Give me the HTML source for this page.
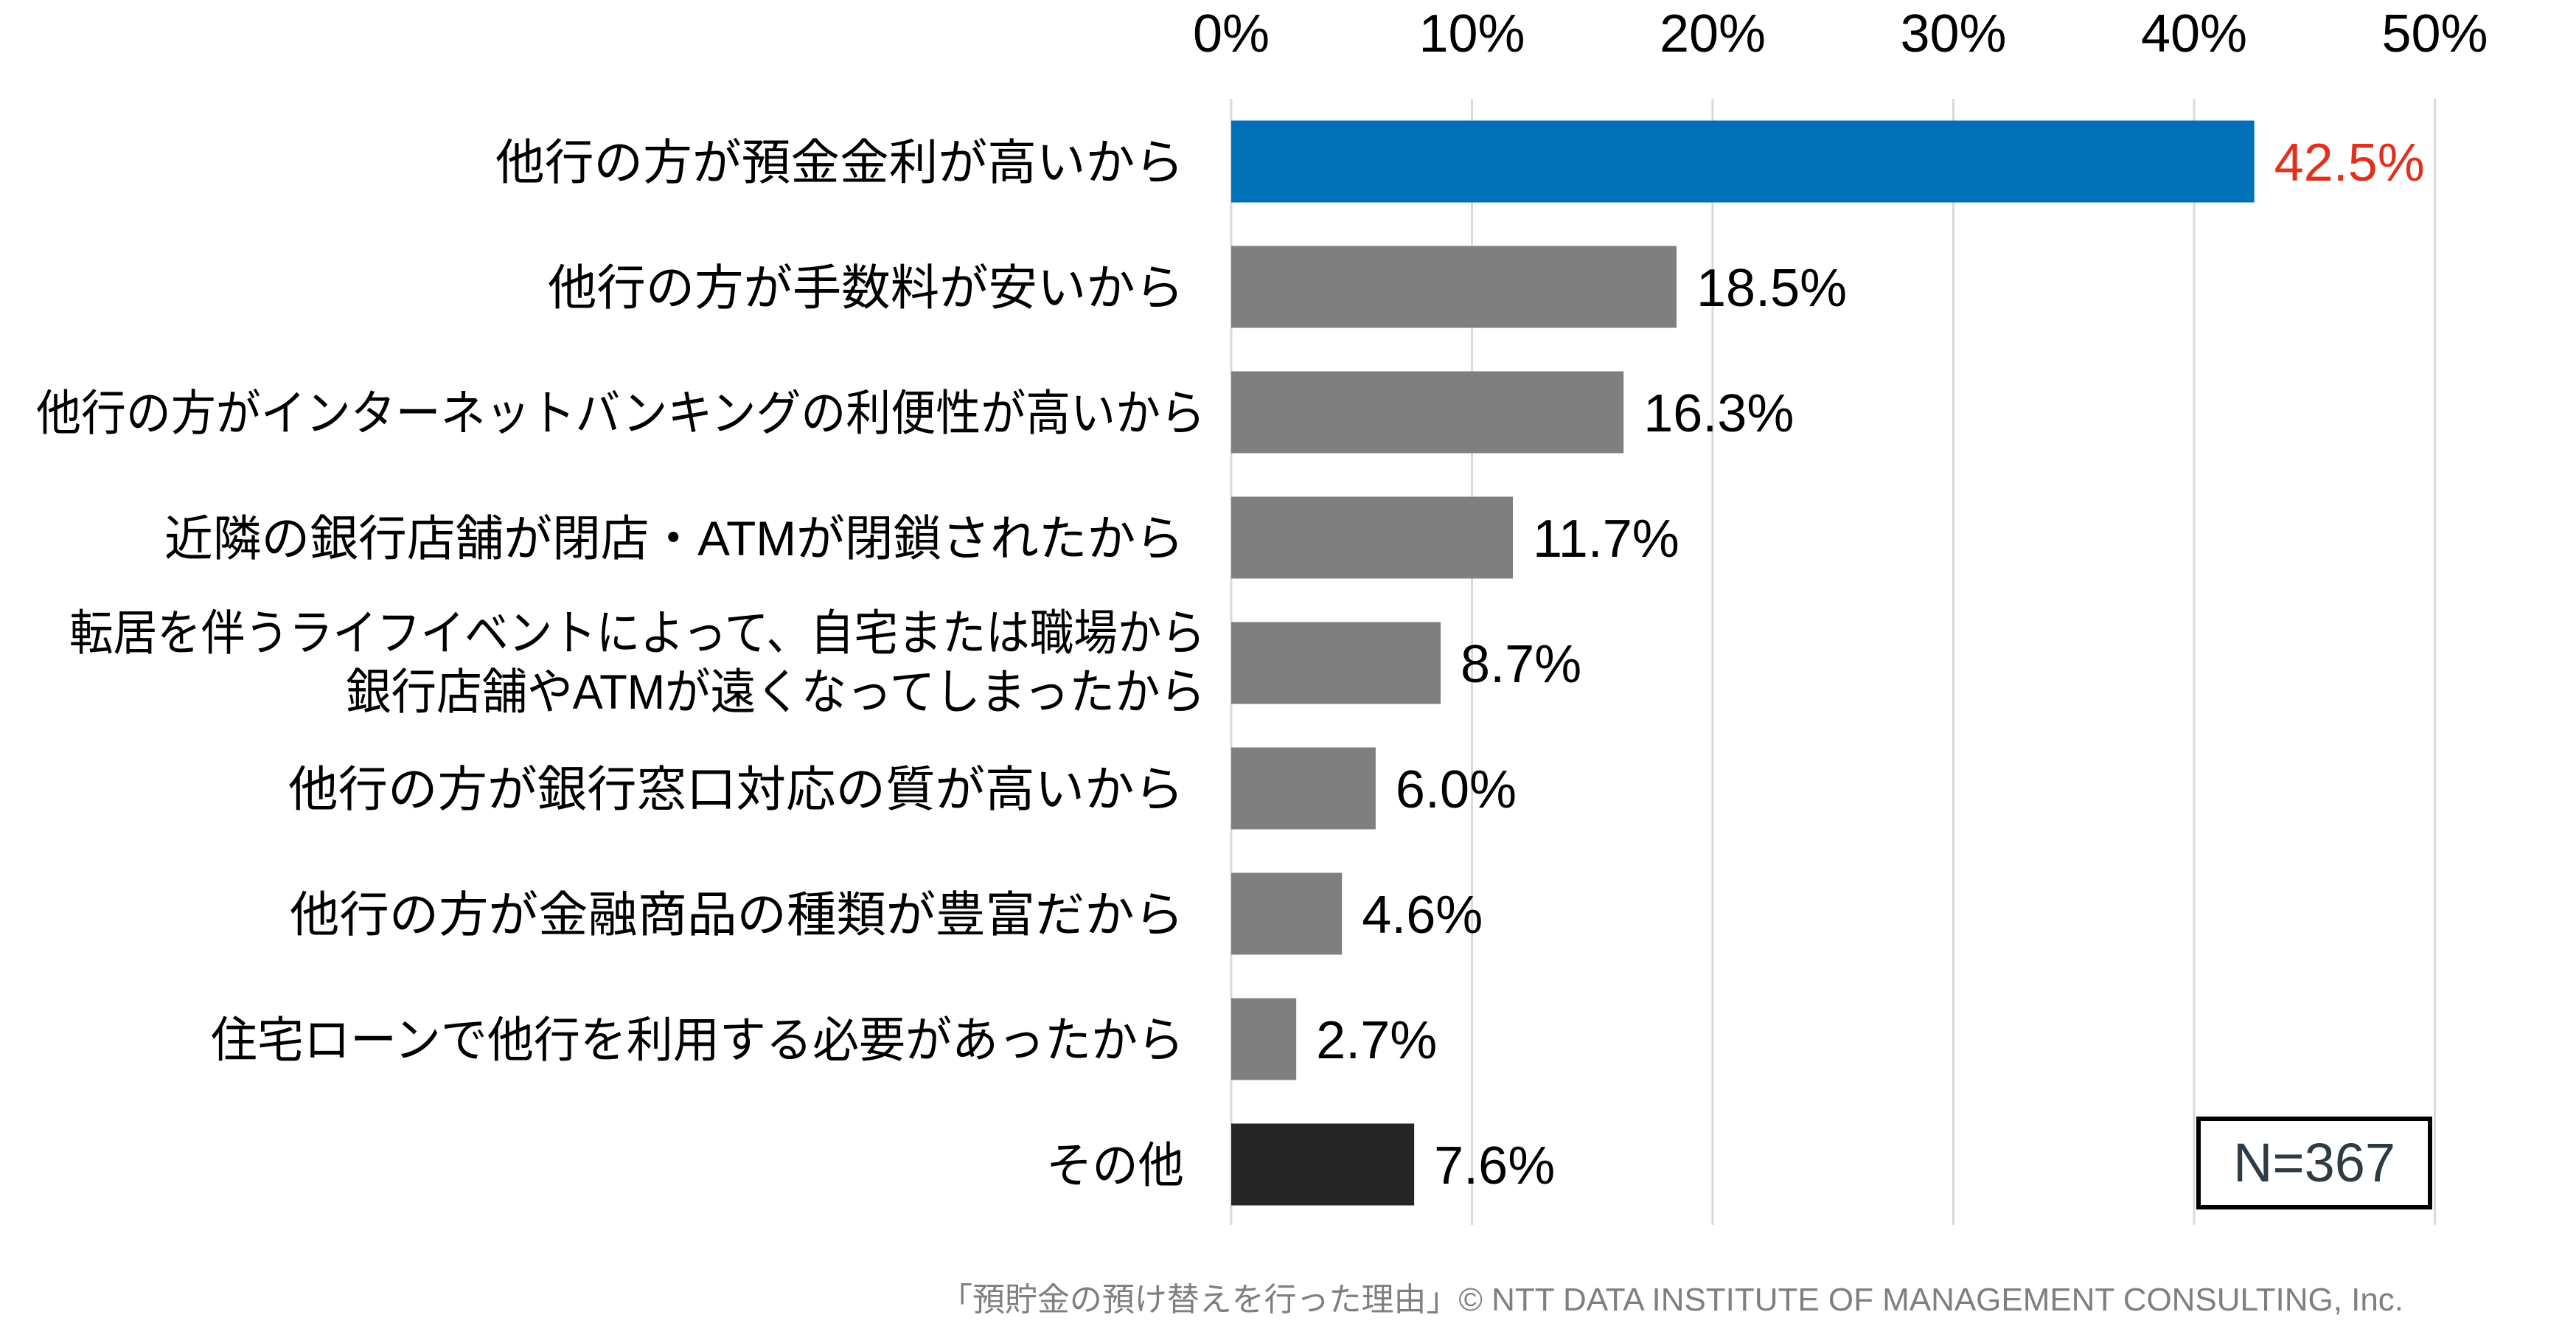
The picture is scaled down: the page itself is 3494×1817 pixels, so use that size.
<!DOCTYPE html>
<html><head><meta charset="utf-8">
<style>
html,body{margin:0;padding:0;background:#fff;}
svg{display:block;font-family:"Liberation Sans","Noto Sans CJK JP",sans-serif;}
</style></head>
<body>
<svg id="chart" width="3494" height="1817" viewBox="0 0 3494 1817" xmlns="http://www.w3.org/2000/svg">
<g id="grid"></g>
<g id="ticks"></g>
<g id="bars"></g>
<g id="cats"></g>
<g id="vals"></g>
<g>
<rect x="2982" y="1517" width="314" height="120" fill="#fff" stroke="#000" stroke-width="6"/>
<text x="3139" y="1602" font-size="74" fill="#2e3b44" text-anchor="middle">N=367</text>
</g>
<text x="3260" y="1777" font-size="44" fill="#7f7f7f" text-anchor="end" textLength="1985" lengthAdjust="spacingAndGlyphs">「預貯金の預け替えを行った理由」© NTT DATA INSTITUTE OF MANAGEMENT CONSULTING, Inc.</text>
</svg>
<script>
const categories = [
 ["他行の方が預金金利が高いから"],
 ["他行の方が手数料が安いから"],
 ["他行の方がインターネットバンキングの利便性が高いから"],
 ["近隣の銀行店舗が閉店・ATMが閉鎖されたから"],
 ["転居を伴うライフイベントによって、自宅または職場から","銀行店舗やATMが遠くなってしまったから"],
 ["他行の方が銀行窓口対応の質が高いから"],
 ["他行の方が金融商品の種類が豊富だから"],
 ["住宅ローンで他行を利用する必要があったから"],
 ["その他"]
];
const labelWidths = [[934],[863],[1586],[1383],[1541,1166],[1215],[1213],[1320],[187]];
const values = [42.5, 18.5, 16.3, 11.7, 8.7, 6.0, 4.6, 2.7, 7.6];
const valueLabels = ["42.5%","18.5%","16.3%","11.7%","8.7%","6.0%","4.6%","2.7%","7.6%"];
const tickValues = [0,10,20,30,40,50];
const tickLabels = ["0%","10%","20%","30%","40%","50%"];

const NS="http://www.w3.org/2000/svg";
const x = v => 1670 + v*32.65;
const yc = i => 219 + i*170;
const BH = 111;
function mk(tag, attrs, parent){const e=document.createElementNS(NS,tag);for(const k in attrs)e.setAttribute(k,attrs[k]);parent.appendChild(e);return e;}
const grid=document.getElementById('grid'),ticks=document.getElementById('ticks'),bars=document.getElementById('bars'),cats=document.getElementById('cats'),vals=document.getElementById('vals');
tickValues.forEach((t,i)=>{
  const l=mk('line',{x1:x(t),x2:x(t),y1:134,y2:1661,stroke:'#d9d9d9','stroke-width':3},grid);
  
  
  const tx=mk('text',{x:x(t),y:70,'font-size':72,'text-anchor':'middle',fill:'#000'},ticks);
  tx.textContent=tickLabels[i];
  
  
});
values.forEach((v,i)=>{
  const color = i===0?'#0070b8':(i===values.length-1?'#262626':'#7f7f7f');
  const r=mk('rect',{x:x(0),y:yc(i)-BH/2,width:x(v)-x(0),height:BH,fill:color},bars);
  
  
  const vt=mk('text',{x:x(v)+27,y:yc(i)+26,'font-size':72,fill:i===0?'#e0301e':'#000'},vals);
  vt.textContent=valueLabels[i];
  
  
  const lines=categories[i];
  const right = (lines.length>1||i===2)?1635:1606;
  lines.forEach((s,j)=>{
    const dy = lines.length>1 ? (j===0?-42:38) : 0;
    const ct=mk('text',{x:right,y:yc(i)+24+dy,'font-size':66,'text-anchor':'end',fill:'#000',textLength:labelWidths[i][j],lengthAdjust:'spacingAndGlyphs'},cats);
    ct.textContent=s;
    
    
  });
});
</script>
</body></html>
